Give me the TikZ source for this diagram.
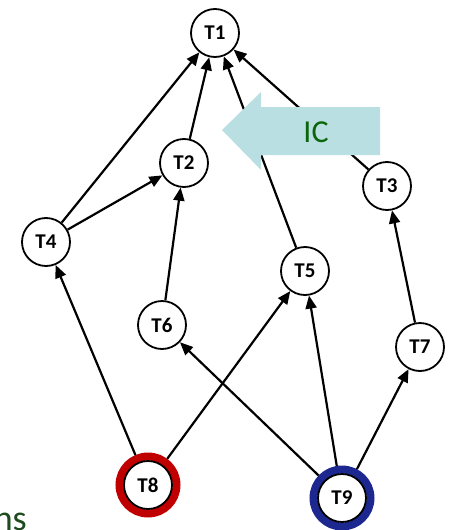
\documentclass[tikz,border=0pt]{standalone}
\usepackage{fontspec}
\setmainfont{Carlito}
\usetikzlibrary{arrows.meta}
\definecolor{icfill}{HTML}{B9DFE2}
\definecolor{icgreen}{HTML}{0B660B}
\definecolor{textgreen}{HTML}{1E4A1E}
\definecolor{ringred}{HTML}{C00000}
\definecolor{ringblue}{HTML}{1C2890}
\begin{document}
\begin{tikzpicture}[x=1pt,y=-1pt,
  task/.style={circle,draw=black,line width=1.8pt,fill=white,minimum size=48pt,inner sep=0pt,
    font=\fontsize{21}{21}\selectfont\bfseries},
  ring/.style={circle,draw=#1,line width=8pt,minimum size=57pt,inner sep=0pt},
  edge/.style={line width=2.2pt,-{Triangle[length=13pt,width=11pt]}}]
\useasboundingbox (0,0) rectangle (450,530);

% task nodes
\node[task] (T1) at (215,33) {T1};
\node[task] (T2) at (184,163) {T2};
\node[task] (T3) at (387,186) {T3};
\node[task] (T4) at (46,242) {T4};
\node[task] (T5) at (305,271) {T5};
\node[task] (T6) at (162,325) {T6};
\node[task] (T7) at (420,347) {T7};

% source tasks with coloured rings
\node[ring=ringred] (R8) at (148,485) {};
\node[task] (T8) at (148,485) {T8};
\node[ring=ringblue] (R9) at (342,498) {};
\node[task] (T9) at (342,498) {T9};

% precedence edges
\draw[edge] (T4) -- (T1);
\draw[edge] (T2) -- (T1);
\draw[edge] (T5) -- (T1);
\draw[edge] (T3) -- (T1);
\draw[edge] (T4) -- (T2);
\draw[edge] (T6) -- (T2);
\draw[edge] (R8) -- (T4);
\draw[edge] (R8) -- (T5);
\draw[edge] (R9) -- (T6);
\draw[edge] (R9) -- (T5);
\draw[edge] (R9) -- (T7);
\draw[edge] (T7) -- (T3);

% IC block arrow
\fill[icfill] (222,130) -- (261,92) -- (261,107) -- (380,107) -- (380,155) -- (261,155) -- (261,170) -- cycle;
\node[text=icgreen,font=\fontsize{32}{32}\selectfont] (IC) at (316,132) {IC};

% trailing text at the lower left
\node[text=textgreen,font=\fontsize{36}{36}\selectfont,anchor=base east,inner sep=0pt] (ns) at (27,530) {ns};
\end{tikzpicture}
\end{document}
